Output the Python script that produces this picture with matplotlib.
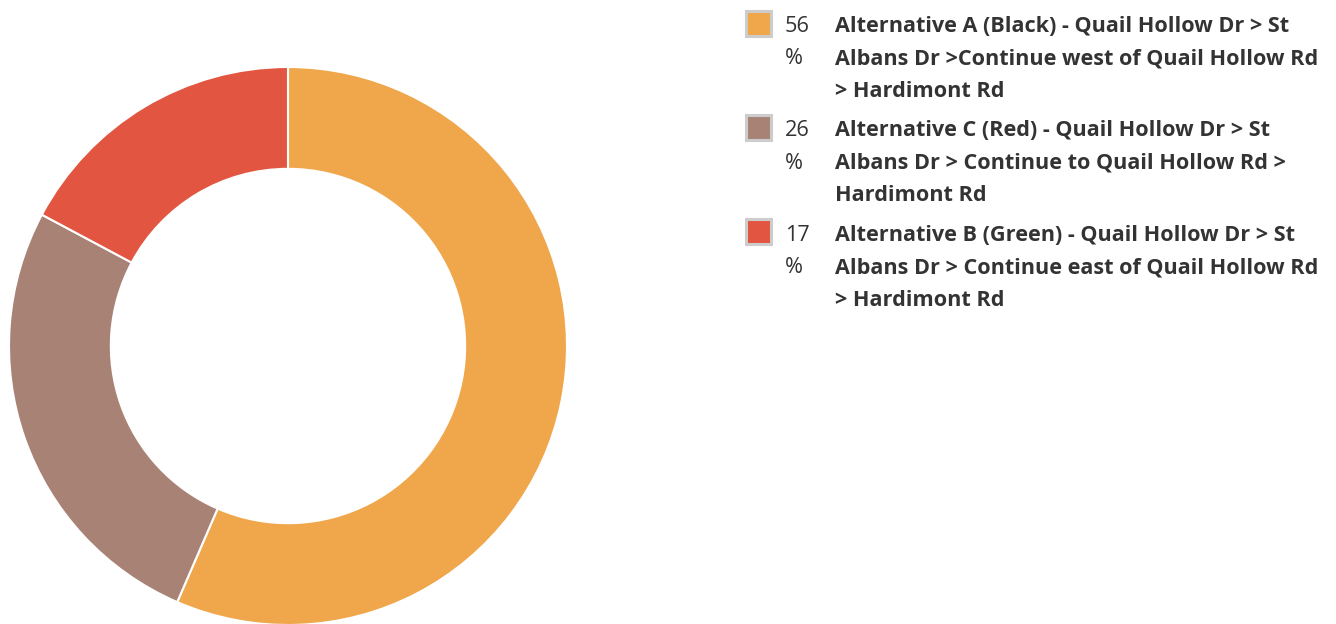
import matplotlib.pyplot as plt
from matplotlib.patches import Rectangle

# Данные
labels = [
    "Alternative A (Black) - Quail Hollow Dr > St\nAlbans Dr >Continue west of Quail Hollow Rd\n> Hardimont Rd",
    "Alternative C (Red) - Quail Hollow Dr > St\nAlbans Dr > Continue to Quail Hollow Rd >\nHardimont Rd",
    "Alternative B (Green) - Quail Hollow Dr > St\nAlbans Dr > Continue east of Quail Hollow Rd\n> Hardimont Rd",
]
values = [56.5, 26.3, 17.2]
colors = ['#F0A64B', '#A98276', '#E25641']

W, H = 1336, 624
plt.rcParams['font.family'] = ['Open Sans', 'DejaVu Sans']
fig = plt.figure(figsize=(W / 100, H / 100), dpi=100)

# Кольцевая диаграмма: центр (288, 346), радиус 279 px
cx, cy, r = 288, 346, 279
ax = fig.add_axes([(cx - r) / W, (H - cy - r) / H, 2 * r / W, 2 * r / H])
ax.pie(values, colors=colors, startangle=90, counterclock=False, radius=1,
       wedgeprops=dict(width=0.365, edgecolor='white', linewidth=1.5))
ax.set_xlim(-1, 1)
ax.set_ylim(-1, 1)
ax.set_aspect('equal')
ax.axis('off')

# Легенда
total = sum(values)
text_color = '#333333'
fs = 15.6
row_base = [32, 136.3, 240.7]   # базовая линия первой строки, px сверху
line_h = 32.5
for i, (lab, val, col) in enumerate(zip(labels, values, colors)):
    yb = row_base[i]
    # квадрат с серой рамкой
    fig.patches.append(Rectangle((745.5 / W, (H - yb - 3.5) / H), 25 / W, 25 / H,
                                 transform=fig.transFigure, facecolor=col,
                                 edgecolor='#cccccc', linewidth=2.2))
    pct = int(val / total * 100)
    fig.text(785 / W, (H - yb) / H, f"{pct}", fontsize=fs, color=text_color,
             va='baseline', ha='left')
    fig.text(785 / W, (H - yb - line_h) / H, "%", fontsize=fs, color=text_color,
             va='baseline', ha='left')
    for j, line in enumerate(lab.split('\n')):
        fig.text(835 / W, (H - yb - j * line_h) / H, line, fontsize=fs,
                 fontweight='bold', color=text_color, va='baseline', ha='left')

fig.savefig('out.png', dpi=100, facecolor='white')
